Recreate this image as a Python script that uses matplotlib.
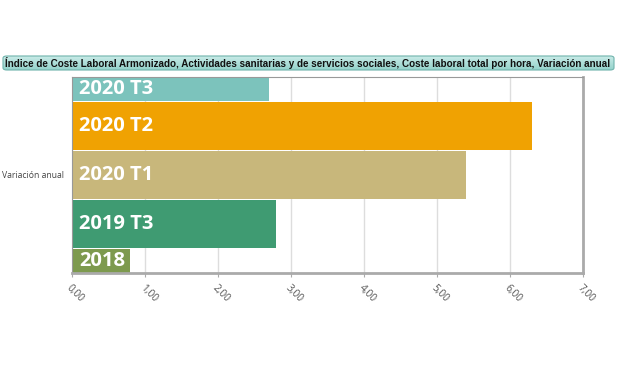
import matplotlib.pyplot as plt
import numpy as np
from matplotlib.patches import FancyBboxPatch

# Data
labels = ["2018", "2019 T3", "2020 T1", "2020 T2", "2020 T3"]
values = [0.80, 2.80, 5.40, 6.30, 2.70]
colors = ["#7d9a4e", "#3f9b72", "#c8b77b", "#f0a202", "#7cc3bc"]
xticks = [0, 1, 2, 3, 4, 5, 6, 7]
title = ("Índice de Coste Laboral Armonizado, Actividades sanitarias y de servicios "
         "sociales, Coste laboral total por hora, Variación anual")
category = "Variación anual"

fig = plt.figure(figsize=(6.2, 3.68), dpi=100)
ax = fig.add_axes([72 / 620, 1 - 273 / 368, 511 / 620, 196 / 368])

# Bars, one per period, centred on integer positions
ypos = np.arange(len(labels))
bar_h = 0.96
ax.barh(ypos, values, height=bar_h, color=colors, zorder=2)
ax.set_ylim(0, len(labels) - 1)
ax.set_xlim(0, 7)

# White labels inside the visible part of each bar
ymin, ymax = ax.get_ylim()
for y, lab in zip(ypos, labels):
    lo = max(y - bar_h / 2, ymin)
    hi = min(y + bar_h / 2, ymax)
    ax.annotate(lab, (0, (lo + hi) / 2), xytext=(7, 0), textcoords="offset pixels",
                ha="left", va="center", color="white", fontsize=14.5,
                fontweight="bold", family="Open Sans", zorder=3)

# Grid and frame
ax.set_xticks(xticks)
ax.set_xticklabels([f"{t:.2f}".replace(".", ",") for t in xticks],
                   rotation=-45, ha="left", va="top", rotation_mode="anchor",
                   fontsize=7.3, color="#555555", family="Open Sans")
ax.tick_params(axis="x", length=3, color="#aaaaaa", pad=4)
ax.grid(axis="x", color="#dddddd", linewidth=1, zorder=0)
ax.set_yticks([(ymin + ymax) / 2])
ax.set_yticklabels([category], fontsize=6.2, color="#444444", family="Open Sans")
ax.tick_params(axis="y", length=0, pad=6)
for side in ["top", "left"]:
    ax.spines[side].set_color("#999999")
    ax.spines[side].set_linewidth(0.8)
for side in ["right", "bottom"]:
    ax.spines[side].set_color("#aaaaaa")
    ax.spines[side].set_linewidth(2)

# Title box with a light teal gradient
x0, y0, w, h = 3 / 620, 1 - 70 / 368, 611 / 620, 14 / 368
box = FancyBboxPatch((x0, y0), w, h, boxstyle="round,pad=0,rounding_size=0.006",
                     transform=fig.transFigure, facecolor="none",
                     edgecolor="#6fb3ac", linewidth=0.8, zorder=5)
gax = fig.add_axes([x0, y0, w, h], zorder=4)
grad = np.linspace(0, 1, 50).reshape(-1, 1)
gax.imshow(grad, aspect="auto", cmap=plt.matplotlib.colors.LinearSegmentedColormap.from_list(
    "t", ["#c9ebe7", "#93d2cb"]), extent=[0, 1, 0, 1])
gax.set_axis_off()
gax.images[0].set_clip_path(box)
fig.patches.append(box)
fig.text(x0 + 2 / 620, y0 + h / 2, title, ha="left", va="center", fontsize=7.15,
         fontweight="bold", family="Liberation Sans", color="#111111", zorder=6)

fig.savefig("out.png", dpi=100)
